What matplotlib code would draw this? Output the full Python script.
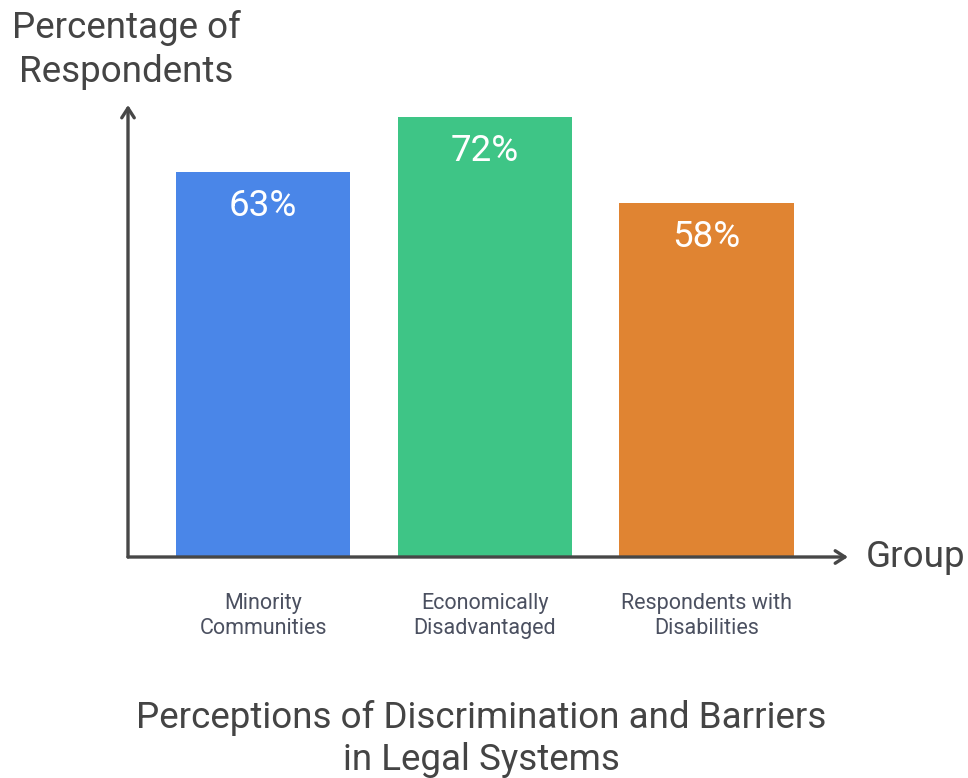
import matplotlib
matplotlib.use("Agg")
import matplotlib.pyplot as plt

categories = ["Minority\nCommunities", "Economically\nDisadvantaged", "Respondents with\nDisabilities"]
values = [63, 72, 58]
value_labels = ["63%", "72%", "58%"]
colors = ["#4A86E8", "#3EC586", "#E08432"]

plt.rcParams['font.family'] = ['Roboto', 'DejaVu Sans']

W, H = 968, 778
fig = plt.figure(figsize=(W / 100, H / 100), dpi=100)
fig.patch.set_facecolor("white")

x0, x1 = 128, 848
y0, y1 = 557, 105
ax = fig.add_axes([x0 / W, 1 - y0 / H, (x1 - x0) / W, (y0 - y1) / H])
ax.set_xlim(-0.609, 2.638)
ax.set_ylim(0, 74.0)
ax.axis("off")

xs = list(range(len(categories)))
bars = ax.bar(xs, values, width=0.785, color=colors, zorder=2)
for x, v, lab in zip(xs, values, value_labels):
    ax.annotate(lab, (x, v), xytext=(0, -34), textcoords="offset pixels",
                ha="center", va="center", color="white", fontsize=26.5, zorder=3)

axcol = "#474747"
ax.annotate("", xy=(1, 0), xytext=(0, 0), xycoords="axes fraction",
            arrowprops=dict(arrowstyle="->,head_length=0.7,head_width=0.45", color=axcol, lw=2.4,
                            shrinkA=0, shrinkB=0), zorder=4)
ax.annotate("", xy=(0, 1), xytext=(0, 0), xycoords="axes fraction",
            arrowprops=dict(arrowstyle="->,head_length=0.7,head_width=0.45", color=axcol, lw=2.4,
                            shrinkA=0, shrinkB=0), zorder=4)

for x, c in zip(xs, categories):
    ax.annotate(c, (x, 0), xytext=(0, -59), textcoords="offset pixels",
                ha="center", va="center", color="#4B5060", fontsize=15.5, linespacing=1.3)

tcol = "#444444"
fig.text(126 / W, 1 - 50 / H, "Percentage of\nRespondents", ha="center", va="center",
         fontsize=26.5, color=tcol, linespacing=1.27)
fig.text(866 / W, 1 - 557 / H, "Group", ha="left", va="center", fontsize=26.5, color=tcol)
fig.text(481 / W, 1 - 739 / H, "Perceptions of Discrimination and Barriers\nin Legal Systems",
         ha="center", va="center", fontsize=26.5, color=tcol, linespacing=1.25)

fig.savefig("out.png", dpi=100, facecolor="white")
